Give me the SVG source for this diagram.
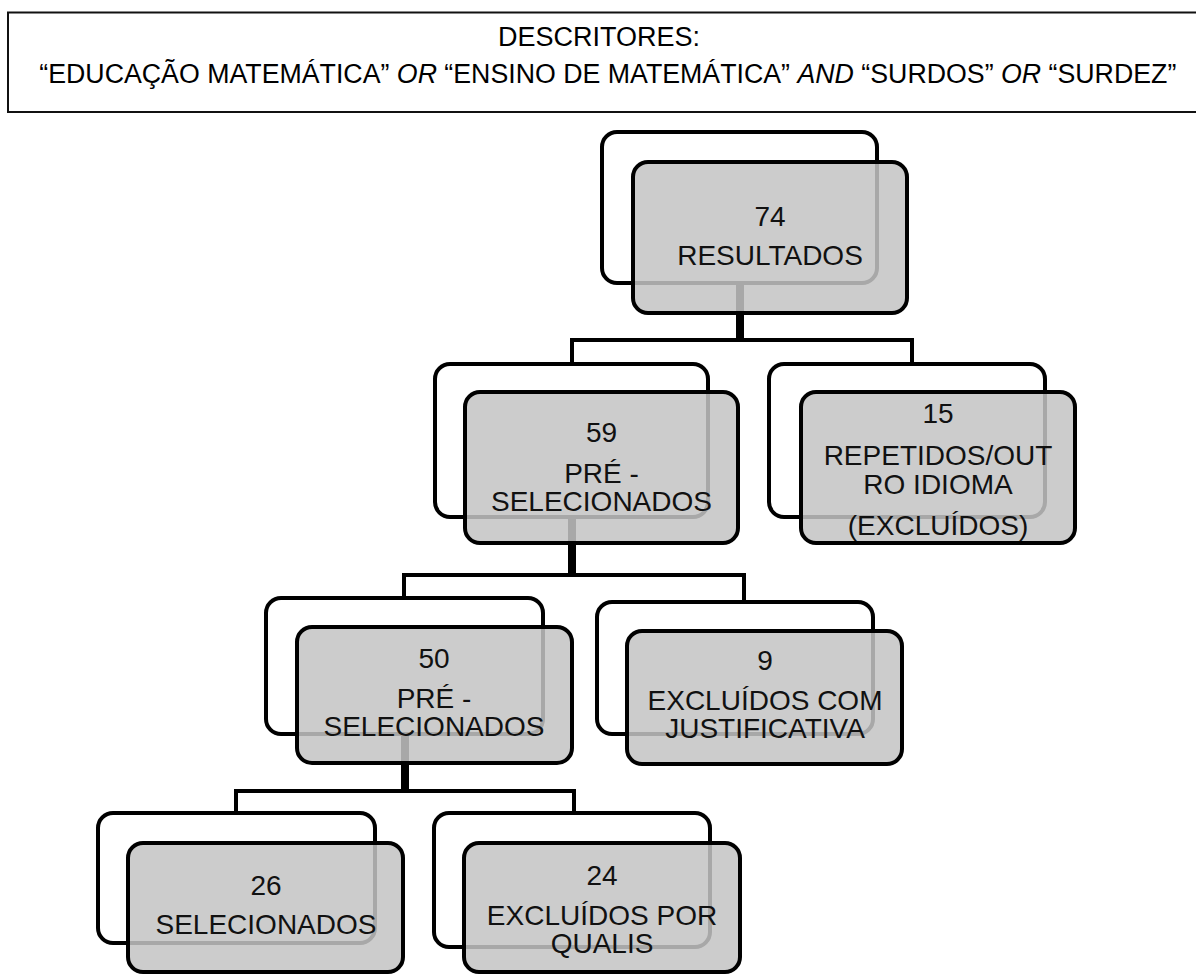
<svg xmlns="http://www.w3.org/2000/svg" width="1196" height="974" viewBox="0 0 1196 974">
<style>
.hdr{fill:#fff;stroke:#111;stroke-width:2}
.ht{font-family:"Liberation Sans",Arial,sans-serif;font-size:27px;fill:#000;text-anchor:middle}
.back{fill:#fff;stroke:#000;stroke-width:4}
.front{fill:#c4c4c4;fill-opacity:0.86;stroke:#000;stroke-width:4}
.t{font-family:"Liberation Sans",Arial,sans-serif;font-size:28px;fill:#111;text-anchor:middle}
.c{fill:none;stroke:#000;stroke-width:4}
</style>
<rect class="hdr" x="8" y="12.5" width="1200" height="99.5"/>
<text class="ht" x="599" y="45.6">DESCRITORES:</text>
<text class="ht" x="39.3" y="83.3" textLength="1137" lengthAdjust="spacingAndGlyphs" style="text-anchor:start">“EDUCAÇÃO MATEMÁTICA” <tspan font-style="italic">OR</tspan> “ENSINO DE MATEMÁTICA” <tspan font-style="italic">AND</tspan> “SURDOS” <tspan font-style="italic">OR</tspan> “SURDEZ”</text>
<g id="connectors">
<path class="c" d="M738 283 V340 H572 V364"/>
<path class="c" d="M742 283 V340 H912 V364"/>
<path class="c" d="M570 517 V575 H404 V598"/>
<path class="c" d="M574 517 V575 H744 V602"/>
<path class="c" d="M403 734 V791 H236 V813"/>
<path class="c" d="M407 734 V791 H574 V813"/>
</g>
<g id="n74">
<rect class="back" x="602" y="132" width="275" height="151" rx="15"/>
<rect class="front" x="633" y="162" width="274" height="151" rx="15"/>
<text class="t" x="770" y="226">74</text>
<text class="t" x="770" y="265">RESULTADOS</text>
</g>
<g id="n59">
<rect class="back" x="435" y="364" width="273" height="153" rx="15"/>
<rect class="front" x="465" y="392" width="273" height="151" rx="15"/>
<text class="t" x="601.5" y="441.7">59</text>
<text class="t" x="601.5" y="482.5">PRÉ -</text>
<text class="t" x="601.5" y="511">SELECIONADOS</text>
</g>
<g id="n15">
<rect class="back" x="769" y="364" width="276" height="153" rx="15"/>
<rect class="front" x="801" y="392" width="274" height="151" rx="15"/>
<text class="t" x="938" y="423">15</text>
<text class="t" x="938" y="465">REPETIDOS/OUT</text>
<text class="t" x="938" y="493.5">RO IDIOMA</text>
<text class="t" x="938" y="535">(EXCLUÍDOS)</text>
</g>
<g id="n50">
<rect class="back" x="266" y="598" width="277" height="136" rx="15"/>
<rect class="front" x="297" y="627" width="275" height="136" rx="15"/>
<text class="t" x="434" y="668">50</text>
<text class="t" x="434" y="707.5">PRÉ -</text>
<text class="t" x="434" y="736">SELECIONADOS</text>
</g>
<g id="n9">
<rect class="back" x="597" y="602" width="276" height="132" rx="15"/>
<rect class="front" x="627" y="631" width="275" height="133" rx="15"/>
<text class="t" x="765" y="670">9</text>
<text class="t" x="765" y="709.5">EXCLUÍDOS COM</text>
<text class="t" x="765" y="738">JUSTIFICATIVA</text>
</g>
<g id="n26">
<rect class="back" x="98" y="813" width="277" height="130" rx="15"/>
<rect class="front" x="128" y="843" width="275" height="129" rx="15"/>
<text class="t" x="266" y="895">26</text>
<text class="t" x="266" y="934">SELECIONADOS</text>
</g>
<g id="n24">
<rect class="back" x="434" y="813" width="276" height="134" rx="15"/>
<rect class="front" x="464" y="843" width="276" height="129" rx="15"/>
<text class="t" x="602" y="885">24</text>
<text class="t" x="602" y="924.5">EXCLUÍDOS POR</text>
<text class="t" x="602" y="953">QUALIS</text>
</g>
</svg>
